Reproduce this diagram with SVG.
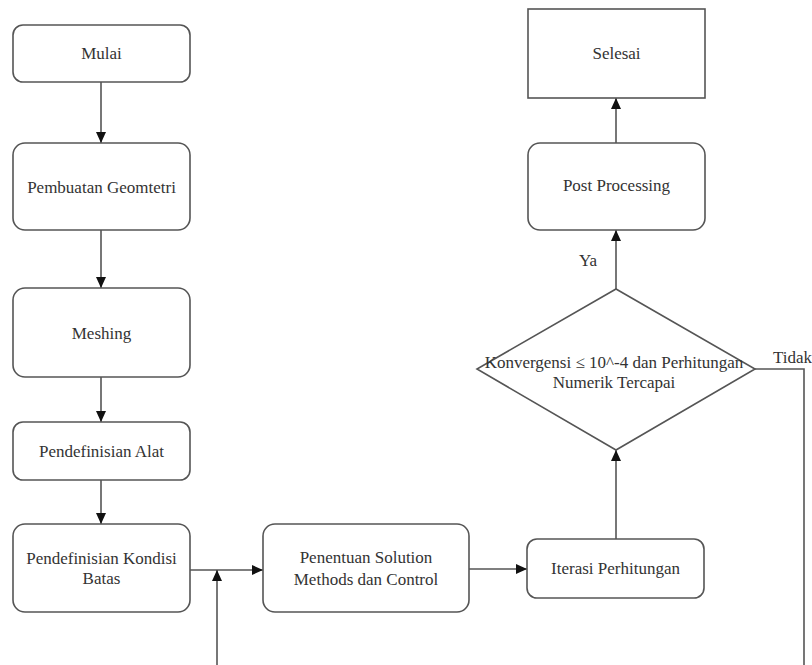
<svg xmlns="http://www.w3.org/2000/svg" width="812" height="665" viewBox="0 0 812 665">
<style>
.box{fill:#fff;stroke:#555;stroke-width:1.6}
.t{font-family:'Liberation Serif','DejaVu Serif','Noto Serif','Times New Roman',Times,serif;font-size:17px;fill:#333;text-anchor:middle;dominant-baseline:central}
.c{fill:none;stroke:#555;stroke-width:1.6}
</style>
<defs>
<marker id="ah" markerUnits="userSpaceOnUse" markerWidth="12" markerHeight="10" refX="11" refY="5" orient="auto">
<path d="M0,0 L11,5 L0,10 Z" fill="#111"/>
</marker>
</defs>
<rect width="812" height="665" fill="#fff"/>
<g id="connectors">
<path class="c" d="M101,82 V143" marker-end="url(#ah)"/>
<path class="c" d="M101,230 V288" marker-end="url(#ah)"/>
<path class="c" d="M101,377 V422" marker-end="url(#ah)"/>
<path class="c" d="M101,480 V524" marker-end="url(#ah)"/>
<path class="c" d="M190,570 H263" marker-end="url(#ah)"/>
<path class="c" d="M217,665 V570" marker-end="url(#ah)"/>
<path class="c" d="M469,569 H527" marker-end="url(#ah)"/>
<path class="c" d="M616,539 V450" marker-end="url(#ah)"/>
<path class="c" d="M616,289 V230" marker-end="url(#ah)"/>
<path class="c" d="M616,143 V98" marker-end="url(#ah)"/>
<path class="c" d="M755,369 H804 V665"/>
<text class="t" x="588" y="260">Ya</text>
<text class="t" x="773" y="357" style="text-anchor:start">Tidak</text>
</g>
<g id="mulai">
<rect class="box" x="13" y="25" width="177" height="57" rx="10"/>
<text class="t" x="101.5" y="53.5">Mulai</text>
</g>
<g id="geometri">
<rect class="box" x="13" y="143" width="177" height="87" rx="12"/>
<text class="t" x="101.5" y="187">Pembuatan Geomtetri</text>
</g>
<g id="meshing">
<rect class="box" x="13" y="288" width="177" height="89" rx="12"/>
<text class="t" x="101.5" y="333">Meshing</text>
</g>
<g id="alat">
<rect class="box" x="13" y="422" width="177" height="58" rx="10"/>
<text class="t" x="101.5" y="451">Pendefinisian Alat</text>
</g>
<g id="kondisi">
<rect class="box" x="13" y="524" width="177" height="88" rx="12"/>
<text class="t" x="101.5" y="558">Pendefinisian Kondisi</text>
<text class="t" x="101.5" y="578">Batas</text>
</g>
<g id="solution">
<rect class="box" x="263" y="524" width="206" height="88" rx="12"/>
<text class="t" x="366" y="557">Penentuan Solution</text>
<text class="t" x="366" y="579">Methods dan Control</text>
</g>
<g id="iterasi">
<rect class="box" x="527" y="539" width="177" height="59" rx="10"/>
<text class="t" x="615.5" y="568.5">Iterasi Perhitungan</text>
</g>
<g id="konvergensi">
<polygon class="box" points="616,289 755,369 616,450 477,369"/>
<text class="t" x="614" y="362">Konvergensi ≤ 10^-4 dan  Perhitungan</text>
<text class="t" x="614" y="382">Numerik Tercapai</text>
</g>
<g id="post">
<rect class="box" x="528" y="143" width="177" height="87" rx="12"/>
<text class="t" x="616.5" y="185">Post Processing</text>
</g>
<g id="selesai">
<rect class="box" x="528" y="9" width="177" height="89"/>
<text class="t" x="616.5" y="53">Selesai</text>
</g>
</svg>
